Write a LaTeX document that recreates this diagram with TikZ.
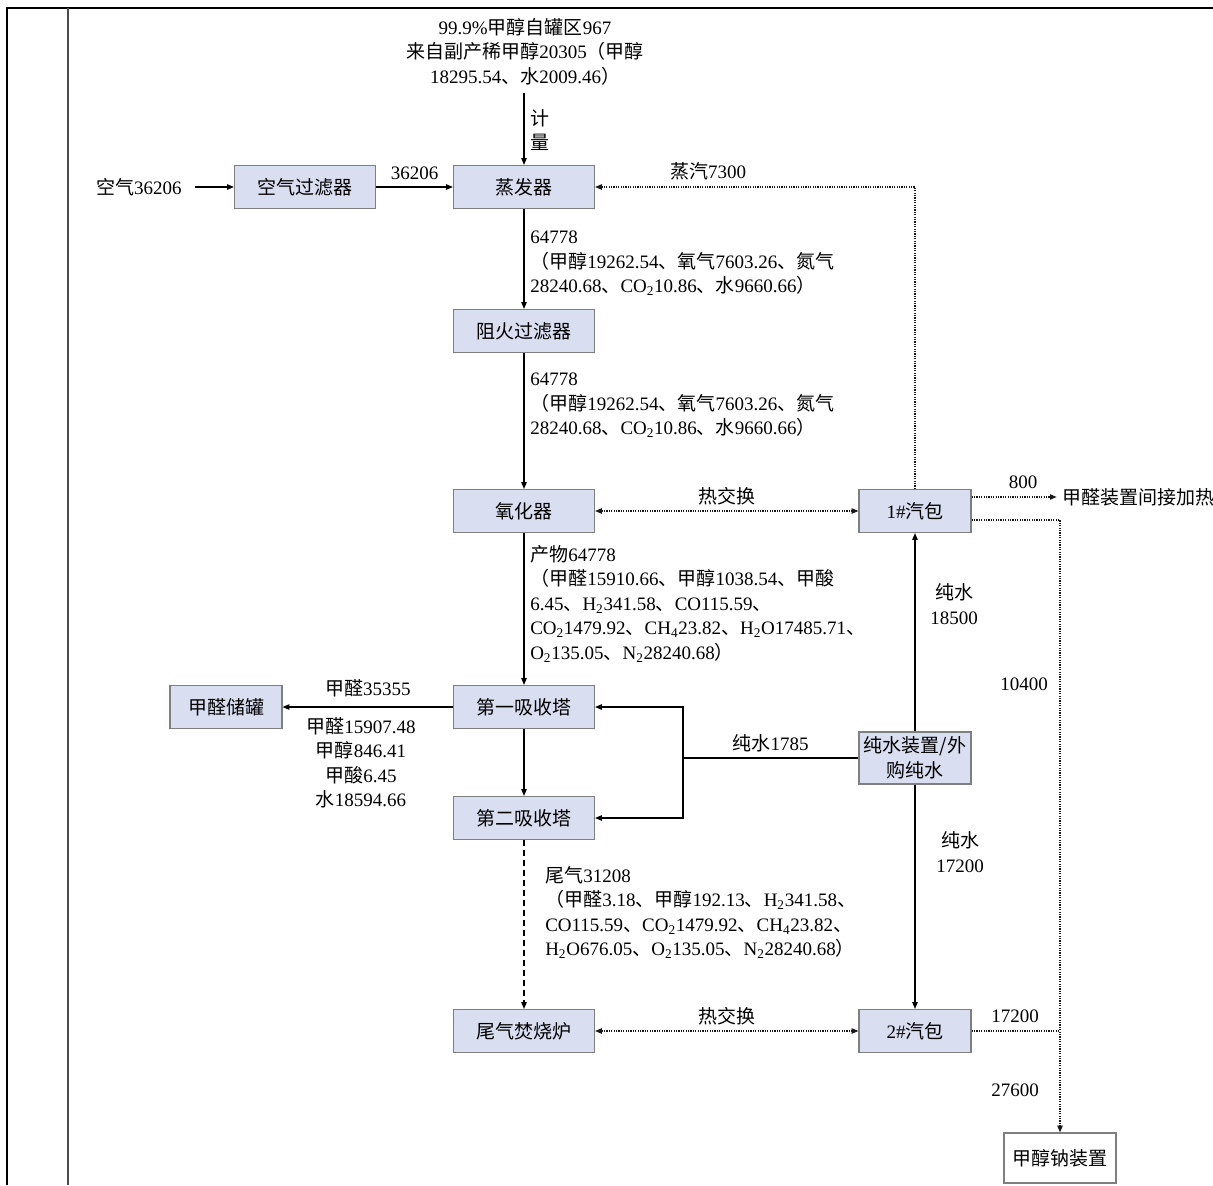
\documentclass[tikz,border=0pt]{standalone}
\usepackage{fontspec}
\setmainfont{Liberation Serif}
\newfontfamily\zhfont{Noto Sans CJK SC}
\newcommand\zh[1]{{\zhfont #1}}
\usetikzlibrary{arrows.meta,calc}
\definecolor{boxfill}{HTML}{D9DFF1}
\definecolor{boxline}{HTML}{7F7F7F}

\tikzset{
  tip/.tip={Triangle[length=5pt,width=4pt]},
  box/.style={draw=boxline, fill=boxfill, line width=0.9pt,
    minimum width=105.75pt, minimum height=32.25pt, inner sep=1pt},
  sbox/.style={box, minimum width=84pt},
  wbox/.style={draw=boxline, fill=white, line width=0.9pt,
    minimum width=84pt, minimum height=37.5pt, inner sep=1pt},
  pipe/.style={draw=black, line width=0.8pt},
  flow/.style={pipe, -tip},
  tailgas/.style={flow, dash pattern=on 4.5pt off 3pt},
  heat/.style={draw=black!90, line width=0.8pt, dash pattern=on 0.9pt off 0.9pt},
  heatflow/.style={heat, -tip},
  heatboth/.style={heat, tip-tip},
  lbl/.style={inner sep=0pt, align=left},
}

\begin{document}
\begin{tikzpicture}[x=0.75pt, y=-0.75pt,
  font=\fontsize{14.25}{18.4}\selectfont]
\useasboundingbox (0,0) rectangle (1213,1185);

% page frame
\draw[line width=2.2pt] (7,1185) -- (7,8) -- (1213,8);
\draw[line width=1.1pt, draw=black!70] (68,8) -- (68,1185);

% equipment
\node[box]  (filter)   at (305,187)  {\zh{空气过滤器}};
\node[box]  (evap)     at (524,187)  {\zh{蒸发器}};
\node[box]  (arrester) at (524,331)  {\zh{阻火过滤器}};
\node[box]  (oxid)     at (524,511)  {\zh{氧化器}};
\node[box]  (abs1)     at (524,707)  {\zh{第一吸收塔}};
\node[box]  (abs2)     at (524,818)  {\zh{第二吸收塔}};
\node[box]  (incin)    at (524,1031) {\zh{尾气焚烧炉}};
\node[sbox] (tank)     at (226,707)  {\zh{甲醛储罐}};
\node[sbox] (drum1)    at (915,511)  {1\#\zh{汽包}};
\node[sbox] (drum2)    at (915,1031) {2\#\zh{汽包}};
\node[sbox, minimum height=39pt, inner sep=0pt, align=center]
            (water)    at (915,758)  {\zh{纯水装置/外}\\\zh{购纯水}};
\node[wbox] (naome)    at (1060,1158) {\zh{甲醇钠装置}};

% feeds
\node[lbl, anchor=east] (air) at (182,187) {\zh{空气}36206};
\draw[flow, shorten <=10pt] (air.east) -- (filter.west);
\draw[flow] (filter) -- (evap) node[midway, above=2pt] {36206};

\node[lbl, align=center, anchor=north] (feed) at (525,18)
  {99.9\%\zh{甲醇自罐区}967\\\zh{来自副产稀甲醇}20305\zh{（甲醇}\\18295.54\zh{、水}2009.46\zh{）}};
\draw[flow] (evap.north |- feed.south) ++(0,8) -- (evap.north);
\node[lbl, align=center] (meter) at (540,130) {\zh{计}\\\zh{量}};

% steam back to the evaporator
\draw[heatflow] (drum1.north) |- (evap.east);
\node[lbl] (steam) at (708,171) {\zh{蒸汽}7300};

% main gas train
\draw[flow] (evap) -- (arrester);
\node[lbl, anchor=north west] (gas1) at (530,231)
  {64778\\\zh{（甲醇}19262.54\zh{、氧气}7603.26\zh{、氮气}\\28240.68\zh{、}CO\textsubscript{2}10.86\zh{、水}9660.66\zh{）}};
\draw[flow] (arrester) -- (oxid);
\node[lbl, anchor=north west] (gas2) at (530,373)
  {64778\\\zh{（甲醇}19262.54\zh{、氧气}7603.26\zh{、氮气}\\28240.68\zh{、}CO\textsubscript{2}10.86\zh{、水}9660.66\zh{）}};

\draw[heatboth] (oxid) -- (drum1) node[midway, above=0.5pt] {\zh{热交换}};

\draw[flow] (oxid) -- (abs1);
\node[lbl, anchor=north west] (prod) at (530,545)
  {\zh{产物}64778\\\zh{（甲醛}15910.66\zh{、甲醇}1038.54\zh{、甲酸}\\6.45\zh{、}H\textsubscript{2}341.58\zh{、}CO115.59\zh{、}\\CO\textsubscript{2}1479.92\zh{、}CH\textsubscript{4}23.82\zh{、}H\textsubscript{2}O17485.71\zh{、}\\O\textsubscript{2}135.05\zh{、}N\textsubscript{2}28240.68\zh{）}};

% formaldehyde product
\draw[flow] (abs1) -- (tank) node[midway, above=4pt] {\zh{甲醛}35355};
\node[lbl, align=center, anchor=north] (prodcomp) at (361,717)
  {\zh{甲醛}15907.48\\\zh{甲醇}846.41\\\zh{甲酸}6.45\\\zh{水}18594.66};

\draw[flow] (abs1) -- (abs2);

% pure water
\coordinate (split) at (683,758);
\draw[pipe] (water.west) -- (split) node[midway, above=0.5pt] {\zh{纯水}1785};
\draw[flow] (split) |- (abs1.east);
\draw[flow] (split) |- (abs2.east);
\draw[flow] (water) -- (drum1);
\node[lbl, align=center] (w1) at (954,604) {\zh{纯水}\\18500};
\draw[flow] (water) -- (drum2);
\node[lbl, align=center] (w2) at (960,852) {\zh{纯水}\\17200};

% tail gas
\draw[tailgas] (abs2) -- (incin);
\node[lbl, anchor=north west] (tail) at (545,866)
  {\zh{尾气}31208\\\zh{（甲醛}3.18\zh{、甲醇}192.13\zh{、}H\textsubscript{2}341.58\zh{、}\\CO115.59\zh{、}CO\textsubscript{2}1479.92\zh{、}CH\textsubscript{4}23.82\zh{、}\\H\textsubscript{2}O676.05\zh{、}O\textsubscript{2}135.05\zh{、}N\textsubscript{2}28240.68\zh{）}};

\draw[heatboth] (incin) -- (drum2) node[midway, above=0.5pt] {\zh{热交换}};

% steam from the drums
\node[lbl, anchor=west] (heatuse) at (1062,497) {\zh{甲醛装置间接加热}};
\draw[heatflow, shorten >=4pt] (heatuse.west -| drum1.east) -- (heatuse.west);
\node[lbl] (s800) at (1023,482) {800};
\draw[heatflow] ($(drum1.east)+(0,9)$) -| (naome.north);
\node[lbl] (s10400) at (1024,684) {10400};
\draw[heat] (drum2.east) -- (drum2.east -| naome.north);
\node[lbl] (s17200) at (1015,1016) {17200};
\node[lbl] (s27600) at (1015,1090) {27600};
\end{tikzpicture}
\end{document}
